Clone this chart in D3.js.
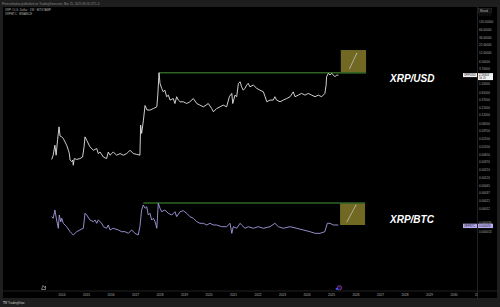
<!DOCTYPE html>
<html>
<head>
<meta charset="utf-8">
<script src="https://cdn.jsdelivr.net/npm/d3@7"></script>
<style>
  html, body { margin: 0; padding: 0; background: #1e1e1e; }
  svg { display: block; font-family: "Liberation Sans", Arial, sans-serif; }
</style>
</head>
<body>
<svg id="chart" width="500" height="307"></svg>
<script>
// XRP / U.S. Dollar, weekly (decimal year -> close in USD)
var usdDates = [2013.58, 2013.64, 2013.71, 2013.76, 2013.82, 2013.88, 2013.92, 2013.99, 2014.05, 2014.12,
  2014.19, 2014.26, 2014.30, 2014.33, 2014.40, 2014.44, 2014.46, 2014.50, 2014.60, 2014.73,
  2014.84, 2014.90, 2014.94, 2015.01, 2015.14, 2015.28, 2015.42, 2015.48, 2015.55, 2015.69,
  2015.82, 2015.89, 2015.96, 2016.03, 2016.09, 2016.23, 2016.37, 2016.50, 2016.64, 2016.71,
  2016.78, 2016.91, 2017.05, 2017.18, 2017.21, 2017.25, 2017.32, 2017.39, 2017.47, 2017.59,
  2017.73, 2017.87, 2017.91, 2017.96, 2018.00, 2018.07, 2018.13, 2018.20, 2018.27, 2018.34,
  2018.41, 2018.54, 2018.61, 2018.68, 2018.75, 2018.82, 2018.95, 2019.09, 2019.22, 2019.36,
  2019.50, 2019.63, 2019.77, 2019.88, 2019.97, 2020.11, 2020.18, 2020.31, 2020.45, 2020.58,
  2020.72, 2020.83, 2020.93, 2020.97, 2021.06, 2021.13, 2021.20, 2021.27, 2021.33, 2021.40,
  2021.47, 2021.54, 2021.60, 2021.67, 2021.81, 2021.95, 2022.08, 2022.22, 2022.29, 2022.36,
  2022.49, 2022.62, 2022.69, 2022.76, 2022.90, 2023.03, 2023.17, 2023.31, 2023.44, 2023.51,
  2023.64, 2023.78, 2023.92, 2024.05, 2024.19, 2024.33, 2024.46, 2024.60, 2024.73, 2024.78,
  2024.80, 2024.87, 2024.94, 2025.01, 2025.07, 2025.14, 2025.21, 2025.28];
var usdValues = [0.0046, 0.0063, 0.0132, 0.0063, 0.02, 0.0515, 0.0262, 0.0245, 0.022, 0.017,
  0.0132, 0.0091, 0.0071, 0.0044, 0.0039, 0.0044, 0.003, 0.0049, 0.0046, 0.0049,
  0.0055, 0.0117, 0.0245, 0.019, 0.0117, 0.0091, 0.0103, 0.0071, 0.008, 0.0055,
  0.0049, 0.008, 0.0063, 0.0071, 0.008, 0.0063, 0.0071, 0.0063, 0.0071, 0.008,
  0.0091, 0.0071, 0.0067, 0.0063, 0.0585, 0.0316, 0.08, 0.25, 0.18, 0.178,
  0.2, 0.227, 0.54, 2.84, 1.29, 0.89, 0.69, 0.78, 0.48, 0.54,
  0.374, 0.42, 0.29, 0.48, 0.374, 0.33, 0.33, 0.29, 0.33, 0.42,
  0.29, 0.258, 0.227, 0.258, 0.29, 0.2, 0.157, 0.2, 0.227, 0.258,
  0.227, 0.48, 0.615, 0.29, 0.54, 0.48, 1.29, 1.46, 1.0, 0.78,
  0.9, 1.14, 1.29, 1.0, 1.14, 0.89, 0.78, 0.69, 0.48, 0.33,
  0.374, 0.374, 0.48, 0.374, 0.33, 0.374, 0.42, 0.48, 0.69, 0.48,
  0.54, 0.615, 0.54, 0.615, 0.54, 0.48, 0.54, 0.48, 0.615, 1.14,
  2.11, 2.72, 2.4, 2.72, 2.4, 2.11, 2.4, 2.38];

// XRP / BTC, weekly (decimal year -> close in BTC)
var btcDates = [2013.58, 2013.64, 2013.71, 2013.78, 2013.85, 2013.89, 2013.95, 2013.99, 2014.05, 2014.19,
  2014.33, 2014.46, 2014.60, 2014.73, 2014.87, 2014.94, 2015.01, 2015.14, 2015.28, 2015.35,
  2015.42, 2015.48, 2015.62, 2015.69, 2015.82, 2015.89, 2015.96, 2016.09, 2016.30, 2016.44,
  2016.57, 2016.71, 2016.84, 2016.98, 2017.11, 2017.18, 2017.25, 2017.32, 2017.39, 2017.46,
  2017.52, 2017.59, 2017.66, 2017.73, 2017.80, 2017.87, 2017.93, 2018.00, 2018.07, 2018.20,
  2018.34, 2018.48, 2018.61, 2018.68, 2018.82, 2018.95, 2019.09, 2019.22, 2019.36, 2019.50,
  2019.63, 2019.77, 2019.91, 2020.04, 2020.18, 2020.31, 2020.52, 2020.72, 2020.86, 2020.93,
  2020.99, 2021.13, 2021.27, 2021.33, 2021.47, 2021.60, 2021.81, 2022.01, 2022.22, 2022.49,
  2022.69, 2022.83, 2023.03, 2023.31, 2023.58, 2023.85, 2024.12, 2024.33, 2024.53, 2024.73,
  2024.83, 2024.94, 2025.07, 2025.28];
var btcValues = [0.000057, 0.0000487, 0.000107, 0.0000414, 0.0000189, 0.0000665, 0.0000353, 0.0000487, 0.0000303, 0.000022,
  0.0000137, 0.00001, 0.0000137, 0.0000161, 0.0000189, 0.0000782, 0.0000665, 0.0000414, 0.0000353, 0.0000414,
  0.0000303, 0.0000414, 0.0000303, 0.000022, 0.0000189, 0.0000258, 0.0000161, 0.0000189, 0.0000161, 0.0000137,
  0.0000137, 0.0000117, 0.0000161, 0.0000117, 0.00001, 0.000022, 0.000107, 0.000172, 0.000126, 0.000146,
  0.0000665, 0.0000782, 0.0000414, 0.0000487, 0.0000353, 0.0000189, 0.000202, 0.000126, 0.000091, 0.000107,
  0.0000782, 0.0000665, 0.000091, 0.000057, 0.000091, 0.0001, 0.0000782, 0.000057, 0.0000487, 0.0000353,
  0.0000303, 0.0000303, 0.0000258, 0.0000303, 0.0000258, 0.0000258, 0.000022, 0.000022, 0.0000303, 0.0000117,
  0.000022, 0.0000189, 0.0000303, 0.0000258, 0.0000189, 0.000022, 0.0000189, 0.000022, 0.0000189, 0.000022,
  0.0000303, 0.000022, 0.0000189, 0.000022, 0.0000189, 0.0000161, 0.0000137, 0.0000117, 0.0000117, 0.0000137,
  0.0000303, 0.0000303, 0.0000258, 0.0000258];

var yearTicks = [2014, 2015, 2016, 2017, 2018, 2019, 2020, 2021, 2022, 2023, 2024, 2025, 2026, 2027, 2028, 2029, 2030, 2031];
// 2.0 sits under the XRPUSD price tag, so it is not listed
var usdTicks = [120, 66, 36, 22, 12, 6.5, 3.7, 1.2, 0.65, 0.37, 0.21, 0.12, 0.065, 0.037, 0.021, 0.012,
  0.0065, 0.0037, 0.0021, 0.0012, 0.00065, 0.00037, 0.00021, 0.00012];
var btcTicks = [0.00003, 0.000013];

var lastUsd = 2.38403;
var lastBtc = 0.0000261;

// Drawn annotations: breakout level and target box for each pair
var usdLevel = [2017.96, 2026.41, 2.84];
var usdBox = [2025.38, 2026.41, 2.72, 15.3];
var usdArrow = [2025.73, 3.74, 2026.03, 12];
var btcLevel = [2017.32, 2026.37, 0.000208];
var btcBox = [2025.35, 2026.37, 0.0000258, 0.000208];
var btcArrow = [2025.62, 0.0000333, 2026.0, 0.000172];

var W = 500, H = 307;
var plotL = 3, plotR = 477.5, plotT = 7, plotB = 291;

var svg = d3.select('#chart');

var x = d3.scaleLinear().domain([2014, 2030]).range([62, 454]);
var yUsd = d3.scaleLog().domain([12, 0.012]).range([53.3, 146.5]);
var yBtc = d3.scaleLog().domain([0.00001, 0.0001]).range([235, 210.7]);

// Frame + chart background.
svg.append('rect').attr('width', W).attr('height', H).attr('fill', '#1e1e1e');
svg.append('rect').attr('x', 3).attr('y', 7).attr('width', 494).attr('height', 291).attr('fill', '#000');

var defs = svg.append('defs');
defs.append('clipPath').attr('id', 'plotclip')
  .append('rect').attr('x', plotL).attr('y', plotT).attr('width', plotR - plotL).attr('height', plotB - plotT);
defs.append('clipPath').attr('id', 'timeclip')
  .append('rect').attr('x', plotL).attr('y', plotB).attr('width', plotR - plotL).attr('height', 7);

// Separators for price / time axes.
svg.append('line').attr('x1', plotR).attr('x2', plotR).attr('y1', plotT).attr('y2', 298)
  .attr('stroke', '#2a2a2a').attr('stroke-width', 0.8);
svg.append('line').attr('x1', plotL).attr('x2', 497).attr('y1', plotB).attr('y2', plotB)
  .attr('stroke', '#2a2a2a').attr('stroke-width', 0.8);

var plot = svg.append('g').attr('clip-path', 'url(#plotclip)');

// Target boxes.
plot.append('rect')
  .attr('x', x(usdBox[0])).attr('width', x(usdBox[1]) - x(usdBox[0]))
  .attr('y', yUsd(usdBox[3])).attr('height', yUsd(usdBox[2]) - yUsd(usdBox[3]))
  .attr('fill', '#716923');
plot.append('rect')
  .attr('x', x(btcBox[0])).attr('width', x(btcBox[1]) - x(btcBox[0]))
  .attr('y', yBtc(btcBox[3])).attr('height', yBtc(btcBox[2]) - yBtc(btcBox[3]))
  .attr('fill', '#716923');

// Breakout levels.
plot.append('line')
  .attr('x1', x(usdLevel[0])).attr('x2', x(usdLevel[1]))
  .attr('y1', yUsd(usdLevel[2])).attr('y2', yUsd(usdLevel[2]))
  .attr('stroke', '#2f6424').attr('stroke-width', 1.4);
plot.append('line')
  .attr('x1', x(btcLevel[0])).attr('x2', x(btcLevel[1]))
  .attr('y1', yBtc(btcLevel[2])).attr('y2', yBtc(btcLevel[2]))
  .attr('stroke', '#2f6424').attr('stroke-width', 1.4);

// Arrows inside the boxes.
defs.append('marker')
  .attr('id', 'head').attr('viewBox', '0 0 10 10').attr('refX', 8).attr('refY', 5)
  .attr('markerWidth', 3).attr('markerHeight', 3).attr('orient', 'auto')
  .append('path').attr('d', 'M0,1 L9,5 L0,9').attr('fill', 'none').attr('stroke', '#ddd').attr('stroke-width', 1.5);

plot.append('line')
  .attr('x1', x(usdArrow[0])).attr('y1', yUsd(usdArrow[1]))
  .attr('x2', x(usdArrow[2])).attr('y2', yUsd(usdArrow[3]))
  .attr('stroke', '#ddd').attr('stroke-width', 0.6).attr('marker-end', 'url(#head)');
plot.append('line')
  .attr('x1', x(btcArrow[0])).attr('y1', yBtc(btcArrow[1]))
  .attr('x2', x(btcArrow[2])).attr('y2', yBtc(btcArrow[3]))
  .attr('stroke', '#ddd').attr('stroke-width', 0.6).attr('marker-end', 'url(#head)');

// Series lines.
var usdLine = d3.line().x(function(d, i) { return x(usdDates[i]); }).y(function(d) { return yUsd(d); });
var btcLine = d3.line().x(function(d, i) { return x(btcDates[i]); }).y(function(d) { return yBtc(d); });

plot.append('path').datum(usdValues).attr('d', usdLine)
  .attr('fill', 'none').attr('stroke', '#e4e4e4').attr('stroke-width', 0.9).attr('stroke-linejoin', 'round');
plot.append('path').datum(btcValues).attr('d', btcLine)
  .attr('fill', 'none').attr('stroke', '#a49ce0').attr('stroke-width', 0.9).attr('stroke-linejoin', 'round');

// Pair labels.
svg.append('text').attr('x', 390).attr('y', 82).text('XRP/USD')
  .attr('fill', '#fff').attr('font-size', 10).attr('font-weight', 'bold').attr('font-style', 'italic');
svg.append('text').attr('x', 390).attr('y', 222.5).text('XRP/BTC')
  .attr('fill', '#fff').attr('font-size', 10).attr('font-weight', 'bold').attr('font-style', 'italic');

// Price axis labels.
var f5 = d3.format('.5f'), f6 = d3.format('.6f');
svg.append('g').selectAll('text').data(usdTicks).enter().append('text')
  .attr('x', 479).attr('y', function(d) { return yUsd(d) + 1; })
  .attr('fill', '#a8a8a8').attr('font-size', 3).text(function(d) { return f5(d); });
svg.append('g').selectAll('text').data(btcTicks).enter().append('text')
  .attr('x', 479).attr('y', function(d) { return yBtc(d) + 1; })
  .attr('fill', '#a8a8a8').attr('font-size', 3).text(function(d) { return f6(d); });

// Scale mode label.
svg.append('rect').attr('x', 478.5).attr('y', 8.5).attr('width', 13).attr('height', 4.5)
  .attr('fill', '#111').attr('stroke', '#444').attr('stroke-width', 0.4);
svg.append('text').attr('x', 480).attr('y', 11.8).attr('fill', '#bbb').attr('font-size', 3).text('Mixed');
svg.append('line').attr('x1', 479).attr('x2', 492).attr('y1', 15).attr('y2', 15)
  .attr('stroke', '#666').attr('stroke-width', 0.4).attr('stroke-dasharray', '1,0.6');

// Last price tags.
var tu = yUsd(lastUsd);
svg.append('rect').attr('x', 463).attr('y', tu - 2).attr('width', 14).attr('height', 4).attr('fill', '#f2f2f2');
svg.append('text').attr('x', 464).attr('y', tu + 1).attr('font-size', 2.8).attr('fill', '#222').text('XRPUSD');
svg.append('rect').attr('x', 478).attr('y', tu - 2).attr('width', 15).attr('height', 7).attr('fill', '#f2f2f2');
svg.append('text').attr('x', 479).attr('y', tu + 1).attr('font-size', 2.8).attr('fill', '#222').text(f5(lastUsd));
svg.append('text').attr('x', 479).attr('y', tu + 4.2).attr('font-size', 2.8).attr('fill', '#444').text('3d 2h');

var tb = yBtc(lastBtc) + 1;
svg.append('rect').attr('x', 463).attr('y', tb - 2.2).attr('width', 14).attr('height', 4.4).attr('fill', '#b7aaf0');
svg.append('text').attr('x', 464).attr('y', tb + 1).attr('font-size', 2.8).attr('fill', '#222').text('XRPBTC');
svg.append('rect').attr('x', 478).attr('y', tb - 2.2).attr('width', 15).attr('height', 4.4).attr('fill', '#b7aaf0');
svg.append('text').attr('x', 479).attr('y', tb + 1).attr('font-size', 2.8).attr('fill', '#222').text(f6(lastBtc));

// Time axis labels.
svg.append('g').attr('clip-path', 'url(#timeclip)')
  .selectAll('text').data(yearTicks).enter().append('text')
  .attr('x', function(d) { return x(d); }).attr('y', 296.3)
  .attr('text-anchor', 'middle').attr('fill', '#b0b0b0').attr('font-size', 3.2)
  .text(function(d) { return d; });

// Event markers on the time axis.
svg.append('path').attr('d', 'M41.5,289.5 L43,285.5 L44.5,287.5 L45.5,286 L45.5,289.5 Z')
  .attr('fill', 'none').attr('stroke', '#ddd').attr('stroke-width', 0.5);
svg.append('circle').attr('cx', 339.5).attr('cy', 287.8).attr('r', 2.2)
  .attr('fill', '#2a1140').attr('stroke', '#9c4dd6').attr('stroke-width', 0.6);
svg.append('rect').attr('x', 335.8).attr('y', 288).attr('width', 2).attr('height', 1.8).attr('fill', '#3d5afe');

// Header and legend.
svg.append('text').attr('x', 2).attr('y', 5).attr('fill', '#8a8a8a').attr('font-size', 3)
  .text('Princeofrakeo published on TradingView.com, Mar 25, 2025 09:16 UTC-4');
svg.append('text').attr('x', 5).attr('y', 11.2).attr('fill', '#b0b0b0').attr('font-size', 2.9)
  .text('XRP / U.S. Dollar · 1W · BITSTAMP');
svg.append('text').attr('x', 5).attr('y', 15.2).attr('fill', '#b0b0b0').attr('font-size', 2.9)
  .text('XRPBTC · BINANCE');

// Footer logo.
svg.append('text').attr('x', 3).attr('y', 303.5).attr('fill', '#c8c8c8').attr('font-size', 3.2)
  .attr('font-weight', 'bold').text('TV');
svg.append('text').attr('x', 8).attr('y', 303.5).attr('fill', '#c8c8c8').attr('font-size', 3)
  .text('TradingView');
</script>
</body>
</html>
